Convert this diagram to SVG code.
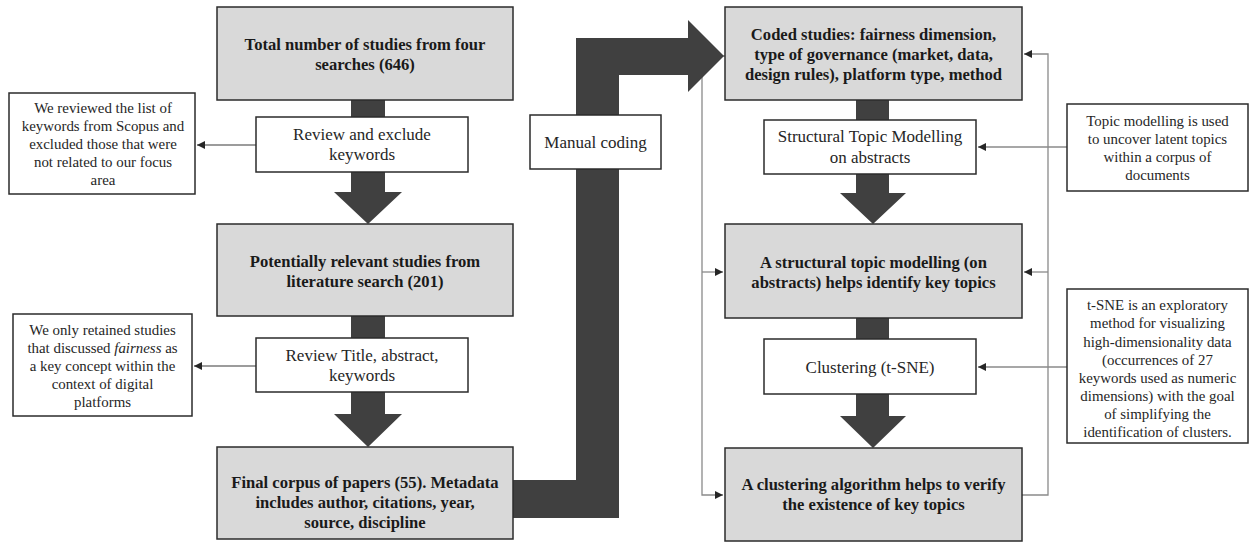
<svg xmlns="http://www.w3.org/2000/svg" width="1249" height="542" viewBox="0 0 1249 542">
<defs>
<style>
.g{fill:#d9d9d9;stroke:#2b2b2b;stroke-width:1.5}
.w{fill:#ffffff;stroke:#2b2b2b;stroke-width:1.5}
.b{font-family:"Liberation Serif","Times New Roman",serif;font-weight:bold;font-size:16.6px;fill:#1a1a1a;text-anchor:middle}
.r{font-family:"Liberation Serif","Times New Roman",serif;font-size:17px;fill:#262626;text-anchor:middle}
.n{font-family:"Liberation Serif","Times New Roman",serif;font-size:14.9px;fill:#262626;text-anchor:middle}
.thin{fill:none;stroke:#8a8a8a;stroke-width:1.3}
.dark{fill:none;stroke:#3a3a3a;stroke-width:1.2}
.big{fill:#404040;stroke:none}
</style>
<marker id="ah" viewBox="0 0 10 10" refX="10" refY="5" markerWidth="8" markerHeight="8" markerUnits="userSpaceOnUse" orient="auto">
<path d="M0,0 L10,5 L0,10 Z" fill="#262626"/>
</marker>
</defs>
<rect width="1249" height="542" fill="#ffffff"/>

<g id="connectors">
<path class="thin" d="M725,56 L702,56 L702,495 L723,495" marker-end="url(#ah)"/>
<path class="thin" d="M702,272 L723,272" marker-end="url(#ah)"/>
<path class="thin" d="M1022,495 L1048,495 L1048,54 L1024,54" marker-end="url(#ah)"/>
<path class="thin" d="M1048,272 L1024,272" marker-end="url(#ah)"/>
<path class="thin" d="M1067,147 L978,147" marker-end="url(#ah)"/>
<path class="thin" d="M1067,367 L978,367" marker-end="url(#ah)"/>
<path class="dark" d="M256,145 L197,145" marker-end="url(#ah)"/>
<path class="dark" d="M256,366 L194,366" marker-end="url(#ah)"/>
<path class="big" d="M351,100 L385,100 L385,192 L402,192 L368,224 L334,192 L351,192 Z"/>
<path class="big" d="M351,316 L385,316 L385,414 L402,414 L368,447 L334,414 L351,414 Z"/>
<path class="big" d="M856,100 L889,100 L889,193 L906,193 L873,224 L840,193 L856,193 Z"/>
<path class="big" d="M856,318 L889,318 L889,416 L906,416 L873,448 L840,416 L856,416 Z"/>
<path class="big" d="M513,480 L576,480 L576,38 L688,38 L688,20 L724,56 L688,92 L688,75 L619,75 L619,518 L513,518 Z"/>
</g>

<g id="n-total">
<rect class="g" x="217" y="7" width="296" height="93"/>
<text class="b" x="365" y="50">Total number of studies from four</text>
<text class="b" x="365" y="70">searches (646)</text>
</g>
<g id="n-review1">
<rect class="w" x="256" y="117" width="212" height="55"/>
<text class="r" x="362" y="140">Review and exclude</text>
<text class="r" x="362" y="160">keywords</text>
</g>
<g id="n-note1">
<rect class="w" x="9" y="93" width="186" height="101"/>
<text class="n" x="103" y="113">We reviewed the list of</text>
<text class="n" x="103" y="131">keywords from Scopus and</text>
<text class="n" x="103" y="149">excluded those that were</text>
<text class="n" x="103" y="167">not related to our focus</text>
<text class="n" x="103" y="185">area</text>
</g>
<g id="n-potential">
<rect class="g" x="217" y="224" width="296" height="92"/>
<text class="b" x="365" y="267">Potentially relevant studies from</text>
<text class="b" x="365" y="287">literature search (201)</text>
</g>
<g id="n-review2">
<rect class="w" x="256" y="338" width="212" height="54"/>
<text class="r" x="362" y="361">Review Title,  abstract,</text>
<text class="r" x="362" y="381">keywords</text>
</g>
<g id="n-note2">
<rect class="w" x="13" y="314" width="179" height="102"/>
<text class="n" x="102.5" y="335">We only retained studies</text>
<text class="n" x="102.5" y="353">that discussed <tspan font-style="italic">fairness</tspan> as</text>
<text class="n" x="102.5" y="371">a key concept within the</text>
<text class="n" x="102.5" y="389">context of digital</text>
<text class="n" x="102.5" y="407">platforms</text>
</g>
<g id="n-final">
<rect class="g" x="217" y="447" width="296" height="92"/>
<text class="b" x="365" y="488">Final corpus of papers (55). Metadata</text>
<text class="b" x="365" y="508">includes author, citations, year,</text>
<text class="b" x="365" y="528">source, discipline</text>
</g>
<g id="n-manual">
<rect class="w" x="530" y="115" width="131" height="54"/>
<text class="r" x="595.5" y="148">Manual coding</text>
</g>
<g id="n-coded">
<rect class="g" x="725" y="7" width="297" height="93"/>
<text class="b" x="873.5" y="40">Coded studies: fairness dimension,</text>
<text class="b" x="873.5" y="60">type of governance (market, data,</text>
<text class="b" x="873.5" y="80">design rules), platform type, method</text>
</g>
<g id="n-stm">
<rect class="w" x="764" y="120" width="212" height="54"/>
<text class="r" x="870" y="142">Structural Topic Modelling</text>
<text class="r" x="870" y="163">on abstracts</text>
</g>
<g id="n-note3">
<rect class="w" x="1067" y="104" width="181" height="87"/>
<text class="n" x="1157.5" y="126">Topic modelling is used</text>
<text class="n" x="1157.5" y="144">to uncover latent topics</text>
<text class="n" x="1157.5" y="162">within a corpus of</text>
<text class="n" x="1157.5" y="180">documents</text>
</g>
<g id="n-structural">
<rect class="g" x="725" y="224" width="297" height="94"/>
<text class="b" x="873.5" y="268">A structural topic modelling (on</text>
<text class="b" x="873.5" y="288">abstracts) helps identify key topics</text>
</g>
<g id="n-clustering">
<rect class="w" x="764" y="339" width="212" height="55"/>
<text class="r" x="870" y="373">Clustering (t-SNE)</text>
</g>
<g id="n-note4">
<rect class="w" x="1067" y="289" width="181" height="154"/>
<text class="n" x="1157.5" y="310">t-SNE is an exploratory</text>
<text class="n" x="1157.5" y="328">method for visualizing</text>
<text class="n" x="1157.5" y="347">high-dimensionality  data</text>
<text class="n" x="1157.5" y="365">(occurrences of 27</text>
<text class="n" x="1157.5" y="383">keywords  used as numeric</text>
<text class="n" x="1157.5" y="401">dimensions) with the goal</text>
<text class="n" x="1157.5" y="419">of simplifying the</text>
<text class="n" x="1157.5" y="437">identification of clusters.</text>
</g>
<g id="n-algorithm">
<rect class="g" x="725" y="448" width="297" height="93"/>
<text class="b" x="873.5" y="490">A clustering algorithm helps to verify</text>
<text class="b" x="873.5" y="510">the existence of key topics</text>
</g>
</svg>
